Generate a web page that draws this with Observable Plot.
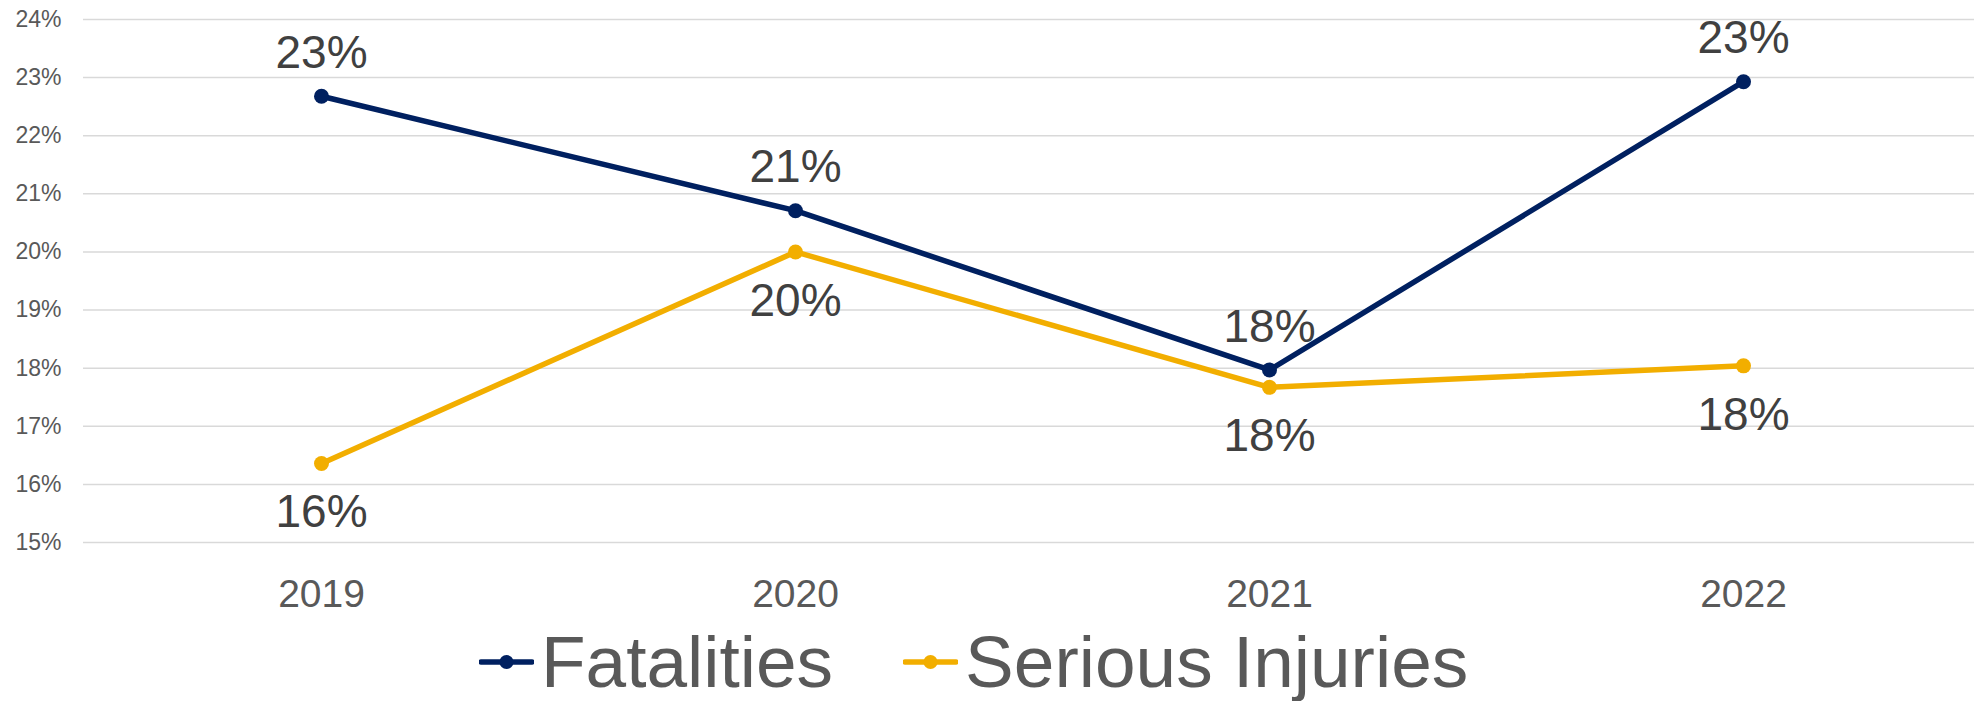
<!DOCTYPE html>
<html>
<head>
<meta charset="utf-8">
<script src="https://cdn.jsdelivr.net/npm/d3@7"></script>
<script src="https://cdn.jsdelivr.net/npm/@observablehq/plot@0.6"></script>
<style>
  html, body { margin: 0; padding: 0; background: #fff; width: 1974px; height: 701px; overflow: hidden; }
  #chart svg { display: block; }
  .legend { display: flex; align-items: center; margin-left: 479px; height: 73px; line-height: 73px;
            font-family: "Liberation Sans", Arial, sans-serif; font-size: 73px; color: #595959; white-space: nowrap; }
  .legend .item { display: flex; align-items: center; }
  .legend svg { display: block; margin-right: 7px; }
  .legend .gap { width: 70px; }
</style>
</head>
<body>
<div id="chart"></div>
<div class="legend" id="legend"></div>
<script>
const years = ["2019", "2020", "2021", "2022"];
const fatalities = [22.68, 20.71, 17.97, 22.93];
const seriousInjuries = [16.36, 20.0, 17.67, 18.04];
const yTicks = [15, 16, 17, 18, 19, 20, 21, 22, 23, 24];
const seriesNames = ["Fatalities", "Serious Injuries"];
const seriesColors = ["#002060", "#F2AE00"];

const rows = [];
years.forEach((yr, i) => {
  rows.push({year: yr, value: fatalities[i], series: seriesNames[0]});
  rows.push({year: yr, value: seriousInjuries[i], series: seriesNames[1]});
});
const fatalRows = rows.filter(d => d.series === seriesNames[0]);
const seriousRows = rows.filter(d => d.series === seriesNames[1]);

const chart = Plot.plot({
  width: 1974,
  height: 625,
  marginTop: 19,
  marginBottom: 83,
  marginLeft: 83,
  marginRight: 0,
  style: {fontFamily: "Liberation Sans, Arial, sans-serif", background: "#fff", color: "#595959"},
  x: {type: "point", domain: years, range: [320, 1744], padding: 0, label: null},
  y: {domain: [15, 24], label: null},
  color: {domain: seriesNames, range: seriesColors},
  marks: [
    Plot.ruleY(yTicks, {stroke: "#d9d9d9", strokeWidth: 1.5}),
    Plot.axisY({ticks: yTicks, tickSize: 0, tickPadding: 22, tickFormat: d => d + "%", fontSize: 23, color: "#595959", label: null}),
    Plot.axisX({tickSize: 0, tickPadding: 37, fontSize: 39, color: "#595959", label: null}),
    Plot.line(rows, {x: "year", y: "value", z: "series", stroke: "series", strokeWidth: 5.5}),
    Plot.dot(rows, {x: "year", y: "value", fill: "series", r: 7.5}),
    Plot.text(fatalRows, {x: "year", y: "value", text: d => Math.round(d.value) + "%", fontSize: 46, fill: "#404040", lineAnchor: "middle", dy: -43}),
    Plot.text(seriousRows, {x: "year", y: "value", text: d => Math.round(d.value) + "%", fontSize: 46, fill: "#404040", lineAnchor: "middle", dy: 49})
  ]
});
document.getElementById("chart").appendChild(chart);

const legend = document.getElementById("legend");
seriesNames.forEach((name, i) => {
  if (i > 0) { const g = document.createElement("div"); g.className = "gap"; legend.appendChild(g); }
  const item = document.createElement("div");
  item.className = "item";
  const ns = "http://www.w3.org/2000/svg";
  const sw = document.createElementNS(ns, "svg");
  sw.setAttribute("width", 55); sw.setAttribute("height", 20);
  const ln = document.createElementNS(ns, "line");
  ln.setAttribute("x1", 2); ln.setAttribute("x2", 53); ln.setAttribute("y1", 10); ln.setAttribute("y2", 10);
  ln.setAttribute("stroke", seriesColors[i]); ln.setAttribute("stroke-width", 5.5); ln.setAttribute("stroke-linecap", "round");
  const c = document.createElementNS(ns, "circle");
  c.setAttribute("cx", 27.5); c.setAttribute("cy", 10); c.setAttribute("r", 7); c.setAttribute("fill", seriesColors[i]);
  sw.appendChild(ln); sw.appendChild(c);
  const t = document.createElement("span");
  t.textContent = name;
  item.appendChild(sw); item.appendChild(t);
  legend.appendChild(item);
});
</script>
</body>
</html>
